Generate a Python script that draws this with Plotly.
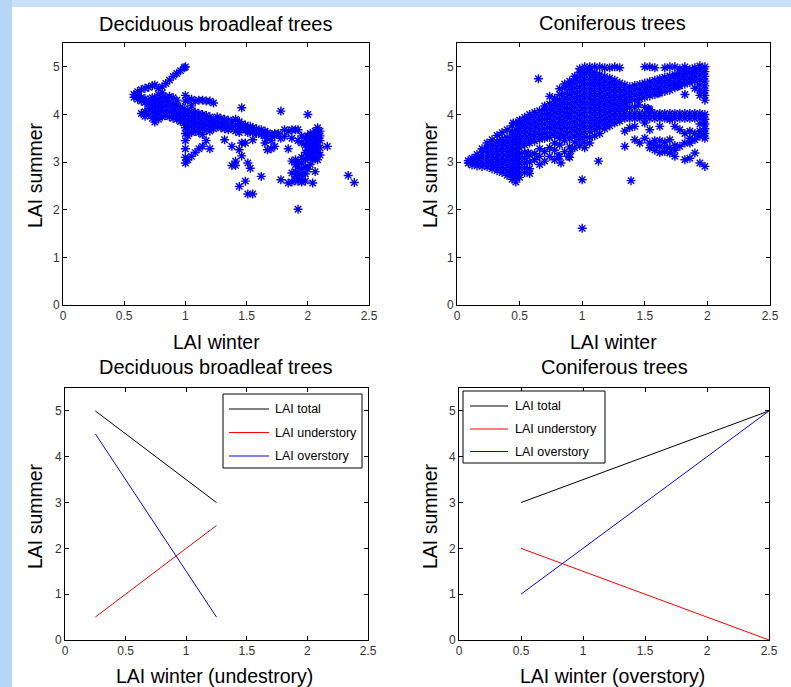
import plotly.graph_objects as go

W, H = 791, 687

# ---------------- data ----------------
# Deciduous broadleaf trees: scatter read column by column (x -> list of y)
decid_col_x = [0.58, 0.61, 0.64, 0.67, 0.70, 0.73, 0.75, 0.78, 0.81, 0.84, 0.87, 0.90, 0.93, 0.96, 0.99,
               1.00, 1.02, 1.05, 1.08, 1.11, 1.14, 1.17, 1.20, 1.23, 1.26, 1.29, 1.32, 1.35, 1.38, 1.41,
               1.44, 1.46, 1.49, 1.51, 1.53, 1.55, 1.58, 1.62, 1.65, 1.67, 1.70, 1.73, 1.76, 1.78, 1.81,
               1.84, 1.87, 1.90, 1.92, 1.95, 1.98, 2.00, 2.02, 2.04, 2.06, 2.08, 2.10, 2.16, 2.33, 2.38]
decid_col_y = [
    [4.36, 4.42],
    [4.32, 4.40, 4.48],
    [4.02, 4.28, 4.36, 4.52],
    [3.96, 4.06, 4.25, 4.33, 4.55],
    [4.00, 4.12, 4.22, 4.30, 4.57],
    [3.92, 4.05, 4.15, 4.25, 4.35, 4.60],
    [3.84, 3.95, 4.05, 4.15, 4.25, 4.35, 4.62],
    [3.90, 4.00, 4.10, 4.20, 4.30, 4.42, 4.55],
    [3.95, 4.05, 4.15, 4.25, 4.35, 4.45, 4.58],
    [3.98, 4.08, 4.18, 4.28, 4.36, 4.65],
    [3.95, 4.05, 4.15, 4.25, 4.38, 4.72],
    [3.92, 4.02, 4.12, 4.22, 4.35, 4.80],
    [3.90, 4.00, 4.10, 4.20, 4.30, 4.86],
    [3.85, 3.95, 4.05, 4.15, 4.92],
    [3.82, 3.92, 4.02, 4.12, 4.98],
    [2.98, 3.10, 3.28, 3.45, 3.60, 3.72, 4.28, 4.40, 5.00],
    [3.05, 3.55, 3.68, 3.78, 3.88, 3.98, 4.08, 4.30],
    [3.12, 3.62, 3.75, 3.85, 3.95, 4.05, 4.18, 4.32],
    [3.20, 3.65, 3.75, 3.85, 3.95, 4.05, 4.28],
    [3.28, 3.62, 3.72, 3.82, 3.92, 4.02, 4.30],
    [3.33, 3.58, 3.70, 3.80, 3.90, 4.00, 4.30],
    [3.45, 3.68, 3.78, 3.88, 3.98, 4.28],
    [3.28, 3.65, 3.75, 3.85, 3.95, 4.28],
    [3.70, 3.80, 3.90, 4.24],
    [3.75, 3.85, 3.95],
    [3.72, 3.82, 3.92],
    [3.47, 3.70, 3.80, 3.90],
    [3.68, 3.78, 3.88],
    [2.93, 3.33, 3.72, 3.85],
    [2.93, 3.02, 3.65, 3.78, 3.90],
    [2.49, 3.26, 3.62, 3.75, 3.85],
    [3.13, 3.40, 3.70, 3.80, 4.14],
    [2.60, 3.40, 3.68, 3.78],
    [2.33, 2.98, 3.62, 3.72],
    [2.87, 3.65, 3.75],
    [2.33, 3.47, 3.62, 3.72],
    [3.60, 3.70],
    [2.70, 3.58, 3.68],
    [3.40, 3.55, 3.65],
    [3.26, 3.50, 3.62],
    [3.28, 3.45, 3.58],
    [3.33, 3.55, 3.60],
    [3.60],
    [2.63, 3.50, 4.07],
    [3.54, 3.68],
    [2.56, 3.28, 3.65],
    [2.58, 2.77, 3.02, 3.50, 3.68],
    [2.62, 2.70, 2.80, 2.95, 3.05, 3.68],
    [2.01, 2.60, 2.68, 2.78, 2.90, 3.00, 3.45, 3.68],
    [2.58, 2.65, 2.75, 2.85, 2.98, 3.10, 3.40, 3.55],
    [2.60, 2.75, 2.90, 3.05, 3.20, 3.35, 3.50],
    [2.85, 3.10, 3.25, 3.40, 3.55, 4.00],
    [2.95, 3.15, 3.30, 3.45, 3.60],
    [2.56, 3.05, 3.20, 3.35, 3.50],
    [2.80, 3.10, 3.25, 3.40, 3.55, 3.65],
    [3.05, 3.20, 3.35, 3.50, 3.62, 3.72],
    [3.15, 3.30, 3.45, 3.55, 3.65],
    [3.33],
    [2.72],
    [2.57],
]

# Coniferous trees: scatter read column by column (x -> list of y)
conif_col_x = [0.09, 0.12, 0.16, 0.20, 0.24, 0.28, 0.32, 0.36, 0.40, 0.44, 0.47, 0.50, 0.54, 0.58,
               0.62, 0.66, 0.70, 0.74, 0.78, 0.82, 0.86, 0.90, 0.94, 0.98, 1.02, 1.06, 1.10, 1.14,
               1.18, 1.22, 1.26, 1.30, 1.34, 1.38, 1.42, 1.46, 1.50, 1.54, 1.58, 1.62, 1.66, 1.70,
               1.74, 1.78, 1.82, 1.86, 1.90, 1.94, 1.98]
conif_col_y = [
    [2.98, 3.03],
    [2.94, 3.02, 3.08],
    [2.92, 3.00, 3.08, 3.16],
    [2.91, 3.00, 3.10, 3.20, 3.28],
    [2.90, 3.00, 3.10, 3.20, 3.30, 3.40],
    [2.86, 2.96, 3.06, 3.16, 3.26, 3.36, 3.47],
    [2.82, 2.92, 3.02, 3.12, 3.22, 3.32, 3.42, 3.56],
    [2.78, 2.88, 2.98, 3.08, 3.18, 3.28, 3.38, 3.48, 3.62],
    [2.72, 2.82, 2.92, 3.02, 3.12, 3.22, 3.32, 3.42, 3.52, 3.68],
    [2.64, 2.74, 2.84, 2.94, 3.04, 3.14, 3.24, 3.34, 3.44, 3.54, 3.64, 3.76],
    [2.58, 2.68, 2.78, 2.88, 2.98, 3.08, 3.18, 3.28, 3.38, 3.48, 3.58, 3.68, 3.82],
    [2.68, 2.78, 2.88, 2.98, 3.08, 3.18, 3.30, 3.40, 3.50, 3.60, 3.70, 3.80, 3.88],
    [2.78, 2.88, 2.98, 3.08, 3.20, 3.36, 3.46, 3.56, 3.66, 3.76, 3.86, 3.94],
    [2.76, 2.86, 3.00, 3.15, 3.40, 3.50, 3.60, 3.70, 3.80, 3.90, 4.00],
    [3.05, 3.18, 3.44, 3.54, 3.64, 3.74, 3.84, 3.94, 4.04],
    [2.95, 3.12, 3.28, 3.48, 3.58, 3.68, 3.78, 3.88, 3.98, 4.08],
    [3.02, 3.22, 3.50, 3.60, 3.70, 3.80, 3.90, 4.00, 4.10, 4.18],
    [3.12, 3.30, 3.52, 3.62, 3.72, 3.82, 3.92, 4.02, 4.12, 4.22, 4.38],
    [3.05, 3.25, 3.40, 3.56, 3.66, 3.76, 3.86, 3.96, 4.06, 4.16, 4.26, 4.34],
    [3.12, 3.36, 3.50, 3.60, 3.70, 3.80, 3.90, 4.00, 4.10, 4.20, 4.30, 4.42, 4.54],
    [3.22, 3.45, 3.55, 3.64, 3.74, 3.84, 3.94, 4.04, 4.14, 4.24, 4.34, 4.44, 4.56, 4.64],
    [3.10, 3.32, 3.50, 3.62, 3.72, 3.82, 3.92, 4.02, 4.12, 4.22, 4.32, 4.42, 4.52, 4.62, 4.70],
    [3.30, 3.42, 3.55, 3.65, 3.75, 3.85, 3.95, 4.05, 4.15, 4.25, 4.35, 4.45, 4.55, 4.65, 4.75, 4.80],
    [3.35, 3.48, 3.58, 3.68, 3.78, 3.88, 3.98, 4.08, 4.18, 4.28, 4.38, 4.48, 4.58, 4.68, 4.78, 4.88, 4.96],
    [3.30, 3.42, 3.54, 3.64, 3.74, 3.84, 3.94, 4.04, 4.14, 4.24, 4.34, 4.44, 4.54, 4.64, 4.74, 4.84, 4.92, 5.00],
    [3.40, 3.52, 3.64, 3.74, 3.84, 3.94, 4.04, 4.14, 4.24, 4.34, 4.44, 4.54, 4.64, 4.74, 4.84, 4.92, 5.00],
    [3.55, 3.68, 3.78, 3.88, 3.98, 4.08, 4.18, 4.28, 4.38, 4.48, 4.58, 4.68, 4.78, 4.88, 5.00],
    [3.60, 3.74, 3.84, 3.94, 4.04, 4.14, 4.24, 4.34, 4.44, 4.54, 4.64, 4.74, 4.84, 5.00],
    [3.70, 3.80, 3.90, 4.00, 4.10, 4.20, 4.30, 4.40, 4.50, 4.60, 4.70, 4.80, 4.98],
    [3.76, 3.86, 3.96, 4.06, 4.16, 4.26, 4.36, 4.46, 4.56, 4.66, 4.76, 4.98],
    [3.82, 3.92, 4.02, 4.12, 4.22, 4.32, 4.42, 4.52, 4.62, 4.72, 5.00],
    [3.86, 3.96, 4.06, 4.16, 4.26, 4.36, 4.46, 4.56, 4.66, 4.98],
    [3.33, 3.65, 3.92, 4.02, 4.12, 4.22, 4.32, 4.42, 4.52, 4.62],
    [3.72, 3.92, 4.02, 4.15, 4.28, 4.38, 4.48, 4.58],
    [3.47, 3.75, 3.92, 4.02, 4.15, 4.31, 4.41, 4.51, 4.61],
    [3.40, 3.92, 4.02, 4.33, 4.43, 4.53, 4.63],
    [3.50, 3.82, 3.92, 4.02, 4.15, 4.36, 4.46, 4.56, 4.66, 5.00],
    [3.30, 3.40, 3.68, 3.92, 4.02, 4.10, 4.39, 4.49, 4.59, 4.69, 5.00],
    [3.25, 3.35, 3.45, 3.92, 4.02, 4.42, 4.52, 4.62, 4.72, 4.98],
    [3.20, 3.33, 3.45, 3.75, 3.92, 4.02, 4.45, 4.55, 4.65, 4.75],
    [3.22, 3.32, 3.42, 3.92, 4.02, 4.48, 4.58, 4.68, 4.78, 4.98],
    [3.19, 3.30, 3.47, 3.89, 3.92, 4.02, 4.51, 4.61, 4.71, 4.81, 5.00],
    [3.12, 3.25, 3.35, 3.75, 3.92, 4.02, 4.56, 4.60, 4.66, 4.76, 4.84, 5.00],
    [3.33, 3.68, 3.92, 4.02, 4.60, 4.70, 4.80, 4.86, 4.96],
    [3.05, 3.40, 3.60, 3.92, 4.02, 4.42, 4.64, 4.74, 4.84, 4.90, 5.00],
    [3.08, 3.40, 3.50, 3.65, 3.92, 4.02, 4.67, 4.77, 4.87, 4.95],
    [3.19, 3.47, 3.60, 3.92, 4.02, 4.55, 4.70, 4.80, 4.90, 4.98],
    [2.98, 3.54, 3.65, 3.80, 3.92, 4.02, 4.40, 4.50, 4.62, 4.73, 4.83, 4.93, 5.02],
    [2.91, 3.50, 3.60, 3.70, 3.80, 3.90, 4.00, 4.30, 4.40, 4.50, 4.60, 4.70, 4.80, 4.90, 5.00],
]
conif_extra_x = [0.65, 1.00, 1.13, 1.39, 1.00, 0.45, 0.57, 0.81, 0.83, 0.89, 0.91, 1.61, 1.77, 1.45, 1.53]
conif_extra_y = [4.75, 2.63, 3.02, 2.61, 1.61, 3.82, 3.19, 3.12, 2.98, 3.12, 3.23, 4.45, 4.60, 4.20, 4.12]

# Bottom panels: conceptual relationships
decid_line_x = [0.25, 1.25]
decid_total = [5.0, 3.0]
decid_under = [0.5, 2.5]
decid_over = [4.5, 0.5]
conif_line_x = [0.5, 2.5]
conif_total = [3.0, 5.0]
conif_under = [2.0, 0.0]
conif_over = [1.0, 5.0]
line_names = ["LAI total", "LAI understory", "LAI overstory"]
line_colors = ["#000000", "#ff0000", "#0000ff"]

x_tick_vals = [0, 0.5, 1, 1.5, 2, 2.5]
x_tick_text = ["0", "0.5", "1", "1.5", "2", "2.5"]
y_tick_vals = [0, 1, 2, 3, 4, 5]

titles = ["Deciduous broadleaf trees", "Coniferous trees", "Deciduous broadleaf trees", "Coniferous trees"]
x_labels = ["LAI winter", "LAI winter", "LAI winter (undestrory)", "LAI winter (overstory)"]
y_label = "LAI summer"

# ---------------- figure ----------------
FONT = "Liberation Sans, Arial, Helvetica, sans-serif"


def flatten(col_x, col_y):
    xs, ys = [], []
    for x, col in zip(col_x, col_y):
        for y in col:
            xs.append(x)
            ys.append(y)
    return xs, ys


def px_x(p):
    return p / W


def px_y(p):
    return 1 - p / H


fig = go.Figure()

marker = dict(symbol="asterisk-open", size=7.5, color="#0000ff", line=dict(color="#0000ff", width=1.4))

dx, dy = flatten(decid_col_x, decid_col_y)
fig.add_trace(go.Scatter(x=dx, y=dy, mode="markers", marker=marker, showlegend=False,
                         xaxis="x", yaxis="y"))
cx, cy = flatten(conif_col_x, conif_col_y)
fig.add_trace(go.Scatter(x=cx + conif_extra_x, y=cy + conif_extra_y, mode="markers", marker=marker,
                         showlegend=False, xaxis="x2", yaxis="y2"))

for i, ys in enumerate([decid_total, decid_under, decid_over]):
    fig.add_trace(go.Scatter(x=decid_line_x, y=ys, mode="lines", name=line_names[i],
                             line=dict(color=line_colors[i], width=1), xaxis="x3", yaxis="y3",
                             showlegend=False))
for i, ys in enumerate([conif_total, conif_under, conif_over]):
    fig.add_trace(go.Scatter(x=conif_line_x, y=ys, mode="lines", name=line_names[i],
                             line=dict(color=line_colors[i], width=1), xaxis="x4", yaxis="y4",
                             showlegend=False))

panels = [  # left, right, top, bottom in pixels
    (63, 369, 43, 305),
    (457, 770, 43, 305),
    (65, 368, 388, 640),
    (459, 769, 388, 640),
]

axis_common = dict(ticks="inside", ticklen=4, tickcolor="#000", mirror="ticks", showline=True,
                   linecolor="#000", linewidth=1, showgrid=False, zeroline=False, automargin=False,
                   tickfont=dict(family=FONT, size=12, color="#333333"))

layout_axes = {}
for k, (l, r, t, b) in enumerate(panels):
    sfx = "" if k == 0 else str(k + 1)
    layout_axes["xaxis" + sfx] = dict(domain=[px_x(l), px_x(r)], anchor="y" + sfx, range=[0, 2.5],
                                      tickvals=x_tick_vals, ticktext=x_tick_text, **axis_common)
    layout_axes["yaxis" + sfx] = dict(domain=[px_y(b), px_y(t)], anchor="x" + sfx, range=[0, 5.5],
                                      tickvals=y_tick_vals, **axis_common)

annotations = []
title_pos = [(215, 24), (612, 23), (215, 367), (614, 367)]
xlab_pos = [(216, 342), (613, 342), (214, 676), (612, 676)]
ylab_pos = [(35, 175), (430, 175), (35, 516), (430, 516)]
for k in range(4):
    annotations.append(dict(text=titles[k], x=px_x(title_pos[k][0]), y=px_y(title_pos[k][1]),
                            xref="paper", yref="paper", showarrow=False, xanchor="center",
                            yanchor="middle", font=dict(family=FONT, size=20, color="#000")))
    annotations.append(dict(text=x_labels[k], x=px_x(xlab_pos[k][0]), y=px_y(xlab_pos[k][1]),
                            xref="paper", yref="paper", showarrow=False, xanchor="center",
                            yanchor="middle", font=dict(family=FONT, size=19.5, color="#000")))
    annotations.append(dict(text=y_label, x=px_x(ylab_pos[k][0]), y=px_y(ylab_pos[k][1]),
                            xref="paper", yref="paper", showarrow=False, xanchor="center",
                            yanchor="middle", textangle=-90,
                            font=dict(family=FONT, size=19.5, color="#000")))

# Background: blue slide frame with white figure area
shapes = [
    dict(type="rect", xref="paper", yref="paper", x0=0, x1=px_x(12), y0=0, y1=1,
         fillcolor="#b6d6f6", line=dict(width=0), layer="below"),
    dict(type="rect", xref="paper", yref="paper", x0=px_x(12), x1=1, y0=0, y1=px_y(7),
         fillcolor="#ffffff", line=dict(width=0), layer="below"),
]

# Legends (MATLAB-style boxes) drawn as box + sample lines + text
legend_boxes = [  # left, right, top, bottom, sample x0, sample x1, text x, row y's
    (223, 362, 394, 468, 229, 269, 273, [409, 432.5, 456]),
    (463, 605, 391, 463, 470, 508, 513, [406, 429, 451.5]),
]
for (l, r, t, b, s0, s1, tx, rows) in legend_boxes:
    shapes.append(dict(type="rect", xref="paper", yref="paper", x0=px_x(l), x1=px_x(r),
                       y0=px_y(b), y1=px_y(t), fillcolor="#ffffff",
                       line=dict(color="#000000", width=1), layer="above"))
    for i, ry in enumerate(rows):
        shapes.append(dict(type="line", xref="paper", yref="paper", x0=px_x(s0), x1=px_x(s1),
                           y0=px_y(ry), y1=px_y(ry), line=dict(color=line_colors[i], width=1),
                           layer="above"))
        annotations.append(dict(text=line_names[i], x=px_x(tx), y=px_y(ry), xref="paper",
                                yref="paper", showarrow=False, xanchor="left", yanchor="middle",
                                font=dict(family=FONT, size=12.5, color="#000")))

fig.update_layout(
    template="none",
    width=W, height=H, autosize=False,
    margin=dict(l=0, r=0, t=0, b=0, pad=0, autoexpand=False),
    paper_bgcolor="#c8e1f8", plot_bgcolor="#ffffff",
    shapes=shapes,
    annotations=annotations,
    showlegend=False,
    **layout_axes,
)

fig.write_html("out.html", config={"displayModeBar": False},
               post_script="document.body.style.margin='0';document.body.style.overflow='hidden';")
